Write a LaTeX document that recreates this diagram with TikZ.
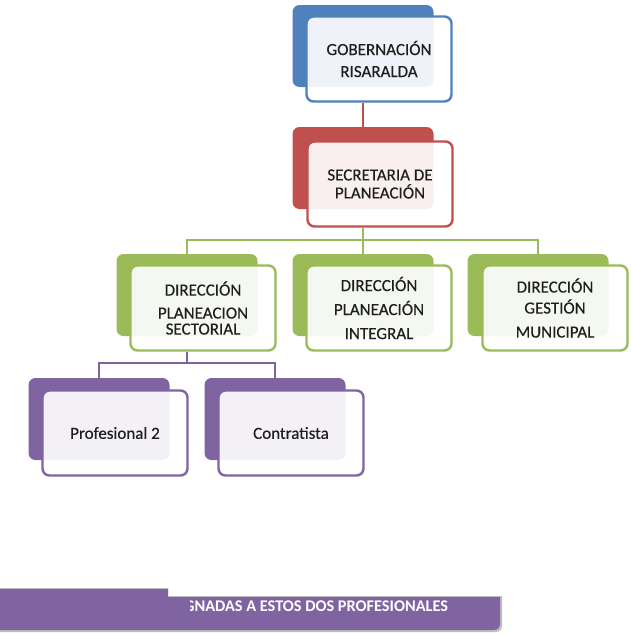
\documentclass[tikz,border=0pt]{standalone}
\usepackage{fontspec}
\setmainfont{Carlito}
\newfontfamily\boxfont[FakeBold=0.35]{Carlito}
\usepackage{tikz}
\usetikzlibrary{positioning}
\definecolor{gblue}{HTML}{4F81BD}
\definecolor{sred}{HTML}{C0504D}
\definecolor{dgreen}{HTML}{9BBB59}
\definecolor{ppurple}{HTML}{8064A2}
\definecolor{ink}{HTML}{1E1E1E}

\begin{document}
\begin{tikzpicture}[x=1pt, y=-1pt,
  back/.style={rectangle, rounded corners=7pt, fill=#1, minimum width=141pt, minimum height=82pt, inner sep=0pt},
  front/.style={rectangle, rounded corners=7pt, draw=#1, line width=2.4pt, fill=white, fill opacity=0.91, text opacity=1,
    minimum width=145pt, minimum height=85pt, inner sep=0pt, align=center, text=ink, font=\boxfont\fontsize{17}{17.5}\selectfont},
  link/.style={draw=#1, line width=2.8pt}]
  \useasboundingbox (0,0) rectangle (631,635);

  % level 1
  \node[back=gblue] (gobb) at (363,46) {};
  \node[front=gblue] (gob) at (379,59) {GOBERNACIÓN\\[4.5pt]RISARALDA};
  % level 2
  \node[back=sred] (secb) at (363,168) {};
  \node[front=sred] (sec) at (380,184) {SECRETARIA DE\\[0.5pt]PLANEACIÓN};
  % level 3
  \node[back=dgreen] (sectb) at (187,295) {};
  \node[front=dgreen] (sect) at (203,308) {DIRECCIÓN\\[5.5pt]PLANEACION\\[-1.5pt]SECTORIAL};
  \node[back=dgreen] (intb) at (363,295) {};
  \node[front=dgreen] (int) at (379,308) {DIRECCIÓN\\[6.5pt]PLANEACIÓN\\[6.5pt]INTEGRAL};
  \node[back=dgreen] (munb) at (538,295) {};
  \node[front=dgreen] (mun) at (555,308) {DIRECCIÓN\\[3.5pt]GESTIÓN\\[6.5pt]MUNICIPAL};
  % level 4
  \node[back=ppurple] (profb) at (99,419) {};
  \node[front=ppurple] (prof) at (115,433) {Profesional 2};
  \node[back=ppurple] (contb) at (275,419) {};
  \node[front=ppurple] (cont) at (291,433) {Contratista};

  % connectors
  \coordinate (gbus) at (363,240);
  \coordinate (pbus) at (187,363);
  \draw[link=sred] (secb.north |- gob.south) -- (secb.north);
  \draw[link=dgreen] (secb |- sec.south) -- (gbus);
  \draw[link=dgreen] (sectb.north) -- (sectb.north |- gbus) -- (munb.north |- gbus) -- (munb.north);
  \draw[link=dgreen] (intb.north |- gbus) -- (intb.north);
  \draw[link=ppurple] (sectb |- sect.south) -- (pbus);
  \draw[link=ppurple] (profb.north) -- (profb.north |- pbus) -- (contb.north |- pbus) -- (contb.north);

  % banner
  \fill[black!25] (0,588) -- (168,588) -- (168,596) -- (502,596) [rounded corners=6pt] -- (502,632) [sharp corners] -- (0,632) -- cycle;
  \fill[ppurple] (0,589) -- (168,589) -- (168,597) -- (500,597) [rounded corners=6pt] -- (500,630) [sharp corners] -- (0,630) -- cycle;
  \begin{scope}
    \clip (190,590) rectangle (500,630);
    \node[anchor=base west, inner sep=0pt, text=white, font=\fontsize{16.3}{18}\selectfont\bfseries] (band) at (184,611) {GNADAS A ESTOS DOS PROFESIONALES};
  \end{scope}
\end{tikzpicture}
\end{document}
